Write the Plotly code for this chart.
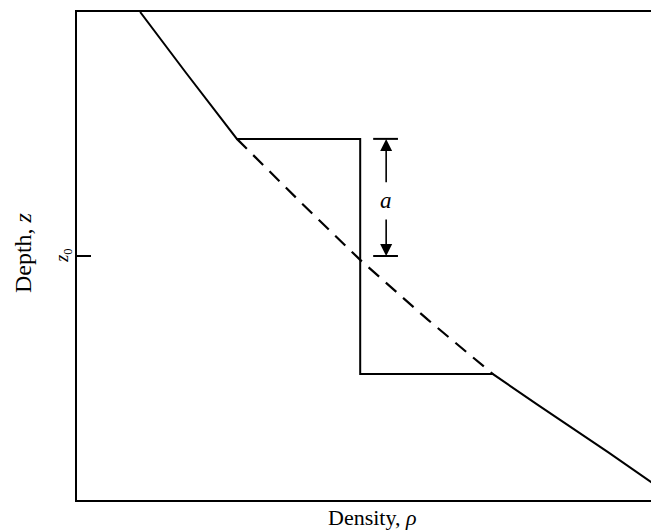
import plotly.graph_objects as go

# density (0-100) vs depth (0-100, increasing downward)
upper_rho = [10.7, 18.5, 27.1]
upper_z = [0.0, 12.5, 26.0]
step_rho = [27.1, 48.0, 48.0, 70.5]
step_z = [26.0, 26.0, 74.2, 74.2]
lower_rho = [70.5, 78.1, 90.0, 100.0]
lower_z = [74.2, 80.5, 90.2, 98.6]
dash_rho = [27.1, 37.5, 48.0, 59.5, 70.5]
dash_z = [26.0, 38.5, 50.8, 63.1, 74.2]

z0 = 50.0
a_top = 26.0
a_x = 52.4
a_label_z = 38.7

line = dict(color="black", width=2)
font = dict(family="Liberation Serif, DejaVu Serif, serif", color="black")

fig = go.Figure()
fig.add_trace(go.Scatter(x=upper_rho + step_rho[1:] + lower_rho[1:],
                         y=upper_z + step_z[1:] + lower_z[1:],
                         mode="lines", line=line, hoverinfo="skip"))
fig.add_trace(go.Scatter(x=dash_rho, y=dash_z, mode="lines",
                         line=dict(color="black", width=2.2, dash="14px,9px"), hoverinfo="skip"))

# the "a" dimension marker: bars and two arrows
for zz in (a_top, z0):
    fig.add_shape(type="line", x0=a_x - 2.2, x1=a_x + 2.0, y0=zz, y1=zz, line=line)
for tip, tail in ((a_top, a_label_z - 3.5), (z0, a_label_z + 3.5)):
    fig.add_annotation(x=a_x, y=tip, ax=a_x, ay=tail, xref="x", yref="y", axref="x", ayref="y",
                       showarrow=True, arrowhead=2, arrowsize=1.5, arrowwidth=1.6,
                       arrowcolor="black", text="")
fig.add_annotation(x=a_x, y=a_label_z, text="<i>a</i>", showarrow=False,
                   font=dict(size=23, **font))

# z0 label and axis titles
fig.add_annotation(xref="paper", yref="y", x=-0.024, y=z0, xanchor="center", yanchor="middle",
                   text="<i>z</i><sub>0</sub>", showarrow=False, textangle=-90, font=dict(size=18, **font))
fig.add_annotation(xref="paper", yref="paper", x=-0.0915, y=0.506, xanchor="center", yanchor="middle",
                   text="Depth, <i>z</i>", showarrow=False, textangle=-90, font=dict(size=24, **font))
fig.add_annotation(xref="paper", yref="paper", x=0.5, y=-0.035, yanchor="middle",
                   text="Density, <i>ρ</i>", showarrow=False, font=dict(size=22, **font))

fig.update_xaxes(range=[0, 100], showline=True, linecolor="black", linewidth=2, mirror=True,
                 showgrid=False, zeroline=False, showticklabels=False, ticks="")
fig.update_yaxes(range=[100, 0], showline=True, linecolor="black", linewidth=2,
                 showgrid=False, zeroline=False, showticklabels=False,
                 tickmode="array", tickvals=[z0], ticks="inside", ticklen=14, tickwidth=2, tickcolor="black")
fig.update_layout(width=659, height=532, margin=dict(l=69, r=0, t=4, b=40),
                  plot_bgcolor="white", paper_bgcolor="white", showlegend=False)

fig.write_html("out.html")
